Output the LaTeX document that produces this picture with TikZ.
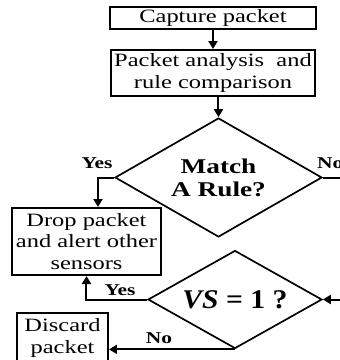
\documentclass[tikz,border=0pt]{standalone}
\usepackage{fontspec}
\setmainfont{Liberation Serif}
\newfontfamily\wide[FakeStretch=1.3]{Liberation Serif}
\newfontfamily\mwide[FakeStretch=1.1]{Liberation Serif}
\usetikzlibrary{shapes.geometric,arrows.meta}

\begin{document}
\begin{tikzpicture}[x=1pt,y=-1pt,
  box/.style={draw, line width=2pt, inner sep=0pt, align=center,
    font=\wide\fontsize{18.8}{21.5}\selectfont},
  decision/.style={draw, diamond, line width=1.7pt, inner sep=0pt, align=center},
  flow/.style={line width=2pt, -{Triangle[length=8pt,width=9pt]}},
  plain/.style={line width=2pt},
  lbl/.style={font=\wide\bfseries\fontsize{16.5}{18}\selectfont, inner sep=0pt}]

\useasboundingbox (0,0) rectangle (340,360);
\clip (0,0) rectangle (340,360);

% process boxes
\node[box, minimum width=206pt, minimum height=22pt] (cap) at (213,18) {Capture packet};
\node[box, minimum width=204pt, minimum height=46pt] (pa) at (213,73)
  {Packet analysis\ \ and\\rule comparison};
\node[box, minimum width=149pt, minimum height=67pt] (drop) at (86.5,241.5)
  {Drop packet\\and alert other\\sensors};
\node[box, minimum width=91pt, minimum height=50pt] (discard) at (62.5,338)
  {Discard\\packet};

% decisions
\node[decision, aspect=1.74, minimum width=207pt, minimum height=119pt,
  font=\wide\bfseries\fontsize{21}{23}\selectfont] (match) at (218.5,177.5)
  {Match\\A Rule?};
\node[decision, aspect=1.74, minimum width=174pt, minimum height=98pt,
  font=\mwide\bfseries\fontsize{27}{29}\selectfont] (vs) at (235,299.5)
  {\textit{VS} = 1 ?};

% connectors
\coordinate (noend) at (346,177.5);
\coordinate (vsin) at (346,299.5);
\draw[flow] (cap.south) -- (pa.north);
\draw[flow] (pa.south -| match.north) -- (match.north);
\draw[flow] (match.west) -| ([xshift=11.5pt]drop.north);
\draw[plain] (match.east) -- (noend);
\draw[flow] (vsin) -- (vs.east);
\draw[flow] (vs.west) -| (drop.south);
\draw[flow] (vs.south) -- (vs.south -| discard.east);

% branch labels
\node[lbl] (yes1) at (97,163) {Yes};
\node[lbl, anchor=west] (no1) at (317,163) {No};
\node[lbl] (yes2) at (120,290) {Yes};
\node[lbl] (no2) at (159,338) {No};
\end{tikzpicture}
\end{document}
